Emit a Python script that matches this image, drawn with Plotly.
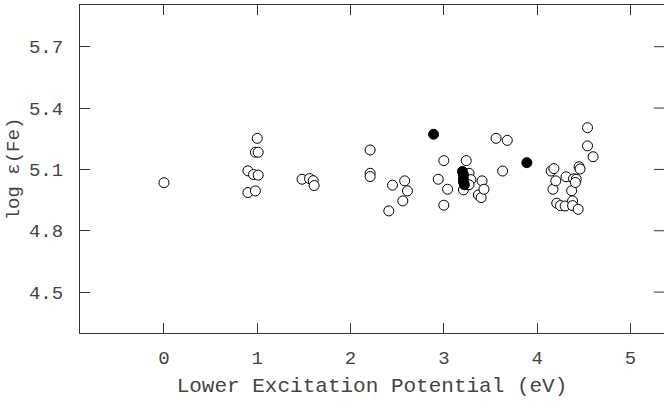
import plotly.graph_objects as go

# Fe I lines: lower excitation potential (eV) vs. line abundance log eps(Fe)
open_ep = [0.00, 1.00, 0.98, 1.01, 0.90, 0.96, 1.01, 0.90, 0.98,
           1.48, 1.56, 1.60, 1.61, 2.21, 2.21, 2.21,
           2.41, 2.45, 2.56, 2.58, 2.61, 2.94, 3.00, 3.00, 3.04,
           3.21, 3.24, 3.27, 3.29, 3.27, 3.37, 3.40, 3.41, 3.43,
           3.56, 3.63, 3.68, 4.15, 4.18, 4.17, 4.20, 4.21, 4.25, 4.30,
           4.31, 4.37, 4.38, 4.38, 4.39, 4.42, 4.41, 4.44, 4.45, 4.46,
           4.54, 4.54, 4.60]
open_abund = [5.035, 5.252, 5.184, 5.184, 5.093, 5.075, 5.072, 4.987, 4.995,
              5.052, 5.055, 5.045, 5.021, 5.195, 5.081, 5.065,
              4.897, 5.023, 4.946, 5.044, 4.995, 5.052, 5.143, 4.925, 5.003,
              5.000, 5.143, 5.081, 5.050, 5.025, 4.975, 4.962, 5.044, 5.003,
              5.252, 5.092, 5.242, 5.092, 5.104, 5.003, 5.044, 4.935, 4.923, 4.921,
              5.064, 4.996, 4.946, 4.923, 5.054, 5.052, 5.036, 4.905, 5.113, 5.102,
              5.304, 5.215, 5.162]

# Fe II lines
filled_ep = [2.89, 3.20, 3.21, 3.21, 3.21, 3.22, 3.89]
filled_abund = [5.272, 5.090, 5.075, 5.055, 5.040, 5.025, 5.133]

x_ticks = [0, 1, 2, 3, 4, 5]
y_ticks = [4.5, 4.8, 5.1, 5.4, 5.7]
y_tick_text = ["4.5", "4.8", "5.1", "5.4", "5.7"]

FONT = "Liberation Mono, Courier New, monospace"
INK = "#333333"
TEXT = "#444444"

fig = go.Figure()
fig.add_trace(go.Scatter(
    x=open_ep, y=open_abund, mode="markers",
    marker=dict(size=10, color="white", line=dict(color="black", width=1)),
    showlegend=False,
))
fig.add_trace(go.Scatter(
    x=filled_ep, y=filled_abund, mode="markers",
    marker=dict(size=10, color="black", line=dict(color="black", width=1)),
    showlegend=False,
))

tick_common = dict(
    showgrid=False, zeroline=False, ticks="inside", ticklen=10,
    tickcolor=INK, tickwidth=1,
)

fig.update_layout(
    width=665, height=406,
    margin=dict(l=80, r=1, t=5, b=73),
    paper_bgcolor="white", plot_bgcolor="white",
    xaxis=dict(
        range=[-0.9, 5.36], tickvals=x_ticks,
        showline=True, linecolor=INK, linewidth=1, mirror="ticks",
        tickfont=dict(family=FONT, size=19, color=TEXT),
        title=dict(text="Lower Excitation Potential (eV)",
                   font=dict(family=FONT, size=21, color=TEXT), standoff=8),
        ticklabelstandoff=7,
        **tick_common,
    ),
    yaxis=dict(
        range=[4.3, 5.904], tickvals=y_ticks, ticktext=y_tick_text,
        showline=True, linecolor=INK, linewidth=1, mirror=False,
        tickfont=dict(family=FONT, size=19, color=TEXT),
        title=dict(text="log \u03b5(Fe)",
                   font=dict(family=FONT, size=19, color=TEXT), standoff=4),
        ticklabelstandoff=12,
        **tick_common,
    ),
)

# right-hand inward ticks, drawn without a frame line
for yv in y_ticks:
    fig.add_shape(type="line", xref="paper", yref="y",
                  x0=1, x1=1 - 10 / 584, y0=yv, y1=yv,
                  line=dict(color=INK, width=1))

fig.write_html("out.html")
